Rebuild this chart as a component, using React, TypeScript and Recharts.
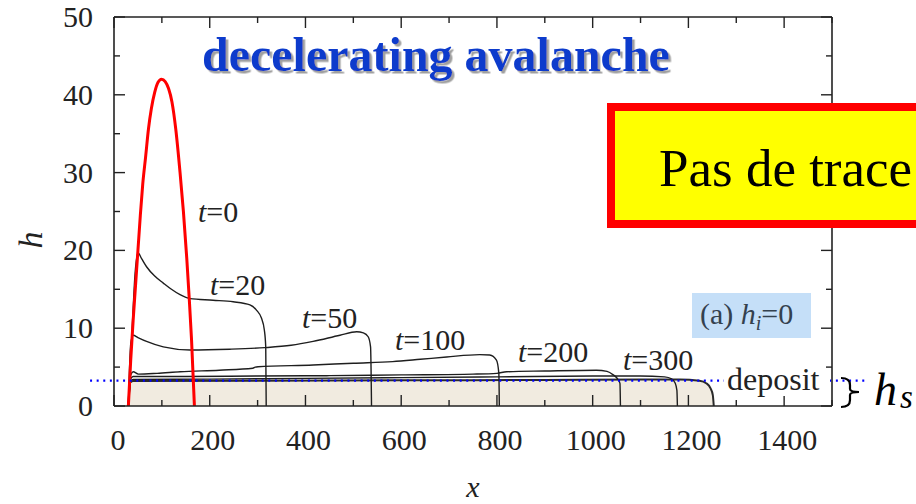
import React from 'react';
import { ComposedChart, Line, Area, XAxis, YAxis, ReferenceLine } from 'recharts';

// Axis ticks (minor ticks every 100 in x and 5 in h, labels on the major ones)
const X_TICKS = [0, 100, 200, 300, 400, 500, 600, 700, 800, 900, 1000, 1100, 1200, 1300, 1400, 1500];
const Y_TICKS = [0, 5, 10, 15, 20, 25, 30, 35, 40, 45, 50];
const X_MAX = 1500;
const Y_MAX = 50;

// Initial pile (red)
const INIT_X = [30, 35, 40, 45, 50, 55, 60, 66, 72, 78, 85, 92, 99.5, 107, 114, 121, 129, 138, 145, 152, 157, 162, 168];
const INIT_H = [0, 6, 11, 15.5, 20, 24.5, 28.5, 32, 35.6, 38.2, 40.3, 41.6, 42, 41.7, 40.8, 39.1, 35.6, 30, 25, 19, 14, 8.5, 0];

// Flow depth profiles at successive times
const T20_X = [30, 38, 44, 50, 58, 68, 85, 103, 120, 138, 159, 207, 249, 284, 298, 308, 314, 317, 318];
const T20_H = [0, 10, 17, 19.7, 18.9, 17.9, 16.7, 15.8, 15.0, 14.3, 13.8, 13.6, 13.4, 13.0, 12.3, 11.3, 9.8, 7.6, 0];

const T50_X = [30, 35, 40, 50, 68, 103, 159, 242, 315, 370, 416, 472, 507, 521, 531, 536, 538];
const T50_H = [0, 8, 9.1, 8.8, 8.3, 7.6, 7.2, 7.3, 7.5, 7.8, 8.3, 9.1, 9.55, 9.4, 8.9, 7.6, 0];

const T100_X = [30, 35, 40, 51, 90, 138, 220, 290, 295, 301, 416, 500, 582, 640, 695, 764, 785, 799, 804, 805];
const T100_H = [0, 4, 4.4, 4.1, 4.2, 4.4, 4.6, 4.85, 5.0, 5.05, 5.27, 5.5, 5.7, 6.0, 6.3, 6.6, 6.55, 5.9, 4.2, 0];

const T200_X = [30, 35, 40, 150, 300, 450, 600, 750, 800, 820, 900, 1008, 1030, 1043, 1052, 1057, 1058];
const T200_H = [0, 3.5, 3.8, 3.8, 3.85, 3.9, 4.0, 4.1, 4.2, 4.4, 4.5, 4.6, 4.45, 4.0, 3.5, 2.9, 0];

const T300_X = [30, 35, 40, 200, 400, 600, 800, 1000, 1100, 1150, 1165, 1172, 1176, 1177];
const T300_H = [0, 3.2, 3.4, 3.45, 3.55, 3.65, 3.75, 3.85, 3.85, 3.75, 3.5, 3.0, 2.0, 0];

// Final deposit
const DEP_X = [30, 34, 40, 300, 600, 900, 1100, 1182, 1223, 1238, 1246, 1251, 1253];
const DEP_H = [0, 3.0, 3.2, 3.25, 3.3, 3.35, 3.4, 3.4, 3.25, 2.9, 2.3, 1.4, 0];

const H_STOP = 3.25;

const toPoints = (xs: number[], hs: number[]) => xs.map((x, i) => ({ x, h: hs[i] }));

const PROFILES = [
  toPoints(T20_X, T20_H),
  toPoints(T50_X, T50_H),
  toPoints(T100_X, T100_H),
  toPoints(T200_X, T200_H),
  toPoints(T300_X, T300_H),
];

// chart frame
const W = 916;
const H = 504;
const MARGIN = { top: 16, right: 83, bottom: 97, left: 113 };
const AXIS_PX = 1;
const LEFT = MARGIN.left + AXIS_PX;
const TOP = MARGIN.top + AXIS_PX;
const RIGHT = W - MARGIN.right - AXIS_PX;
const BOTTOM = H - MARGIN.bottom - AXIS_PX;
const px = (v: number) => LEFT + (v / X_MAX) * (RIGHT - LEFT);
const py = (v: number) => BOTTOM - (v / Y_MAX) * (BOTTOM - TOP);

const SERIF = 'Liberation Serif';
const INK = '#222';
const MAJOR = 11;
const MINOR = 6;

const BottomTick = (p: any) => {
  const v = p.payload.value;
  if (v % 200 !== 0 || v > 1400) return <g />;
  return (
    <text x={p.x + (v === 0 ? 4 : 3)} y={p.y + 44} textAnchor="middle" fontFamily={SERIF} fontSize={30} fill={INK}>
      {v}
    </text>
  );
};

const LeftTick = (p: any) => {
  const v = p.payload.value;
  if (v % 10 !== 0) return <g />;
  return (
    <text x={p.x - 21} y={p.y + 10} textAnchor="end" fontFamily={SERIF} fontSize={30} fill={INK}>
      {v}
    </text>
  );
};

// inward tick marks on all four sides of the frame
const TickMarks = () => (
  <g stroke={INK} strokeWidth={1.4}>
    {X_TICKS.map((v) => {
      const len = v % 200 === 0 ? MAJOR : MINOR;
      const x = px(v);
      return (
        <g key={'x' + v}>
          <line x1={x} x2={x} y1={BOTTOM} y2={BOTTOM - len} />
          <line x1={x} x2={x} y1={TOP} y2={TOP + len} />
        </g>
      );
    })}
    {Y_TICKS.map((v) => {
      const len = v % 10 === 0 ? MAJOR : MINOR;
      const y = py(v);
      return (
        <g key={'y' + v}>
          <line x1={LEFT} x2={LEFT + len} y1={y} y2={y} />
          <line x1={RIGHT} x2={RIGHT - len} y1={y} y2={y} />
        </g>
      );
    })}
  </g>
);

const axisLine = { stroke: INK, strokeWidth: 1.6 };

const TLabel = ({ x, y, n }: { x: number; y: number; n: string }) => (
  <text x={x} y={y} fontFamily={SERIF} fontSize={30} fill={INK}>
    <tspan fontStyle="italic">t</tspan>={n}
  </text>
);

export default function App() {
  return (
    <div style={{ position: 'absolute', left: 0, top: 0, width: W, height: H, background: '#fff' }}>
      <ComposedChart width={W} height={H} margin={MARGIN}>
        <XAxis dataKey="x" type="number" domain={[0, X_MAX]} ticks={X_TICKS} interval={0} allowDataOverflow
          height={AXIS_PX} tickSize={0} tickMargin={0} tickLine={false} axisLine={axisLine} tick={BottomTick} />
        <XAxis xAxisId="top" orientation="top" dataKey="x" type="number" domain={[0, X_MAX]} ticks={X_TICKS}
          height={AXIS_PX} tickLine={false} axisLine={axisLine} tick={false} />
        <YAxis type="number" domain={[0, Y_MAX]} ticks={Y_TICKS} interval={0} allowDataOverflow
          width={AXIS_PX} tickSize={0} tickMargin={0} tickLine={false} axisLine={axisLine} tick={LeftTick} />
        <YAxis yAxisId="right" orientation="right" type="number" domain={[0, Y_MAX]} ticks={Y_TICKS}
          width={AXIS_PX} tickLine={false} axisLine={axisLine} tick={false} />

        <Area data={toPoints(DEP_X, DEP_H)} dataKey="h" type="monotone" fill="#f1ebe0" fillOpacity={1}
          stroke="#2a2a2a" strokeWidth={2} isAnimationActive={false} />
        {PROFILES.map((d, i) => (
          <Line key={i} data={d} dataKey="h" type="monotone" stroke="#1e1e1e" strokeWidth={1.4} dot={false}
            isAnimationActive={false} />
        ))}
        <Line data={toPoints(INIT_X, INIT_H)} dataKey="h" type="monotone" stroke="#ff0000" strokeWidth={3}
          dot={false} isAnimationActive={false} />
        <ReferenceLine segment={[{ x: -50, y: H_STOP }, { x: 1572, y: H_STOP }]} ifOverflow="visible"
          stroke="#0000ff" strokeWidth={2.2} strokeDasharray="2 4.6" />
      </ComposedChart>

      <svg width={W} height={H} style={{ position: 'absolute', left: 0, top: 0, pointerEvents: 'none' }}>
        <defs>
          <filter id="titleShadow" x="-5%" y="-20%" width="110%" height="150%">
            <feDropShadow dx={2.5} dy={2.5} stdDeviation={0.6} floodColor="#a0a0a0" floodOpacity={1} />
          </filter>
        </defs>

        <TickMarks />

        <text x={202} y={71} fontFamily={SERIF} fontWeight="bold" fontSize={48} fill="#0b3bcc"
          filter="url(#titleShadow)">decelerating avalanche</text>

        {/* note box */}
        <rect x={611} y={107} width={400} height={117} fill="#ffff00" stroke="#ff0000" strokeWidth={8} />
        <text x={659} y={186} fontFamily={SERIF} fontSize={53} fill="#000">Pas de trace</text>

        {/* time labels */}
        <TLabel x={198} y={222} n="0" />
        <TLabel x={210} y={295} n="20" />
        <TLabel x={302} y={328} n="50" />
        <TLabel x={395} y={350} n="100" />
        <TLabel x={518} y={362} n="200" />
        <TLabel x={623} y={370} n="300" />

        {/* case label */}
        <rect x={692} y={293} width={119} height={45} fill="#c5dff8" />
        <text x={700} y={324} fontFamily={SERIF} fontSize={30} fill="#34414e">
          (a) <tspan fontStyle="italic">h</tspan>
          <tspan fontStyle="italic" fontSize={20} dy={6}>i</tspan>
          <tspan dy={-6}>=0</tspan>
        </text>

        {/* deposit label */}
        <rect x={724} y={368} width={106} height={28} fill="#fff" />
        <text x={727} y={390} fontFamily={SERIF} fontSize={32} fill={INK}>deposit</text>

        {/* h_s brace */}
        <path d="M841,378 Q850,378 850,385 L850,389 Q850,392 859,392 Q850,392 850,395 L850,400 Q850,407 841,407"
          fill="none" stroke="#000" strokeWidth={2.2} />
        <text x={874} y={405} fontFamily={SERIF} fontStyle="italic" fontSize={46} fill="#000">h</text>
        <text x={900} y={408} fontFamily={SERIF} fontStyle="italic" fontSize={33} fill="#000">s</text>

        {/* axis titles */}
        <text x={42} y={240} transform="rotate(-90 42 240)" textAnchor="middle" fontFamily={SERIF} fontStyle="italic"
          fontSize={34} fill={INK}>h</text>
        <text x={473} y={497} textAnchor="middle" fontFamily={SERIF} fontStyle="italic" fontSize={30} fill={INK}>x</text>
      </svg>
    </div>
  );
}
